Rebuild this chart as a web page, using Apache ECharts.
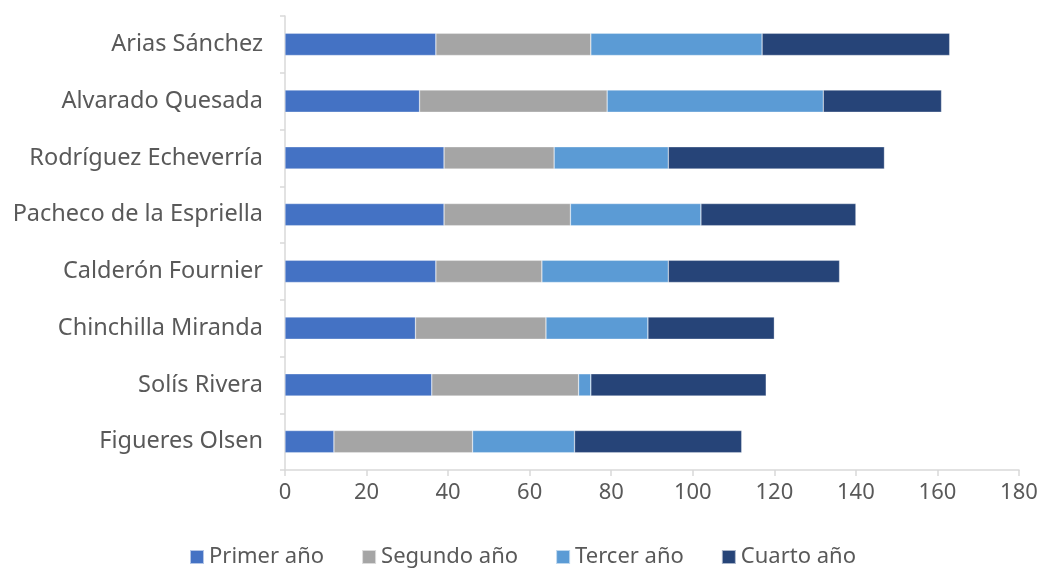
<!DOCTYPE html>
<html><head><meta charset="utf-8">
<script src="https://cdn.jsdelivr.net/npm/echarts@6/dist/echarts.min.js"></script>
<style>html,body{margin:0;padding:0;background:#fff}#c{width:1045px;height:569px}</style>
</head><body><div id="c"></div>
<script>
const categories = ["Figueres Olsen","Solís Rivera","Chinchilla Miranda","Calderón Fournier","Pacheco de la Espriella","Rodríguez Echeverría","Alvarado Quesada","Arias Sánchez"];
const primer  = [12, 36, 32, 37, 39, 39, 33, 37];
const segundo = [34, 36, 32, 26, 31, 27, 46, 38];
const tercer  = [25, 3, 25, 31, 32, 28, 53, 42];
const cuarto  = [41, 43, 31, 42, 38, 53, 29, 46];
const seriesNames = ["Primer año","Segundo año","Tercer año","Cuarto año"];
const xTicks = [0,20,40,60,80,100,120,140,160,180];
const colors = ["#4472C4","#A5A5A5","#5B9BD5","#264478"];
const font = "'Noto Sans',Roboto,sans-serif";
const chart = echarts.init(document.getElementById('c'));
const mk = (name, data, i) => ({
  name, type:'bar', stack:'total', data, barWidth:'39%',
  itemStyle:{color:colors[i], borderColor:'rgba(255,255,255,0.6)', borderWidth:0.5}
});
chart.setOption({
  animation:false,
  grid:{left:285, right:26, top:16, bottom:99, containLabel:false},
  legend:{bottom:-4, left:'center', itemWidth:14, itemHeight:14, itemGap:37,
    icon:'rect', textStyle:{fontSize:22, color:'#595959', fontFamily:font},
    data:seriesNames},
  xAxis:{type:'value', min:xTicks[0], max:xTicks[xTicks.length-1], interval:20,
    axisLine:{show:true, lineStyle:{color:'#D9D9D9', width:1.5}},
    axisTick:{show:true, length:6, lineStyle:{color:'#D9D9D9', width:1.5}},
    splitLine:{show:false},
    axisLabel:{fontSize:22, color:'#595959', fontFamily:font, margin:12}},
  yAxis:{type:'category', data:categories,
    axisLine:{show:true, lineStyle:{color:'#D9D9D9', width:1.5}},
    axisTick:{show:true, length:5, lineStyle:{color:'#D9D9D9', width:1.5}},
    axisLabel:{fontSize:23.5, color:'#595959', fontFamily:font, margin:22}},
  series:[mk(seriesNames[0],primer,0), mk(seriesNames[1],segundo,1), mk(seriesNames[2],tercer,2), mk(seriesNames[3],cuarto,3)]
});
</script></body></html>
